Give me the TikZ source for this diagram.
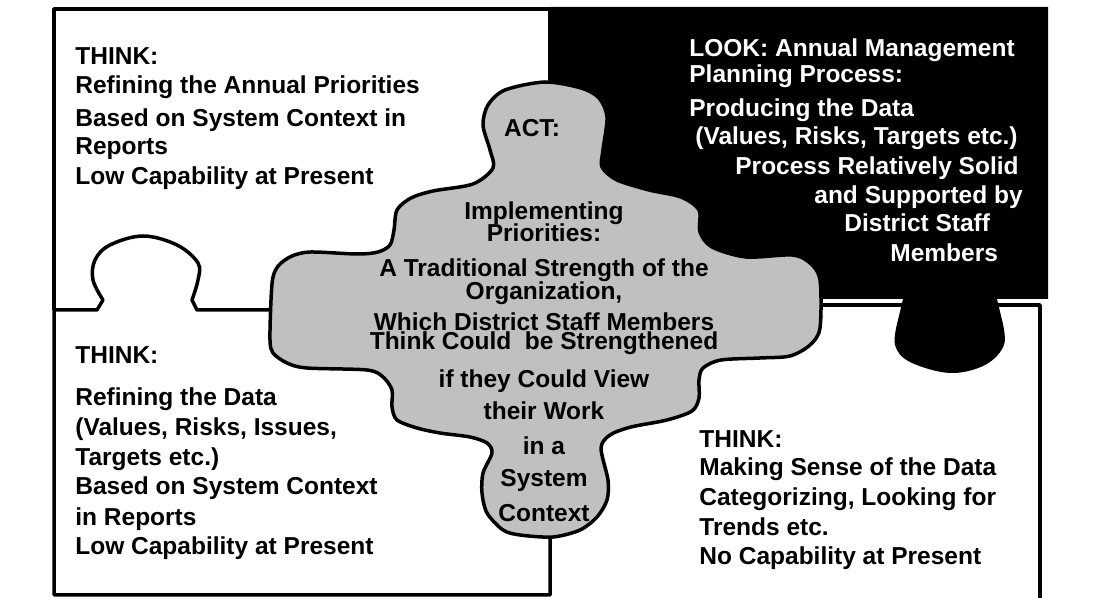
\documentclass[tikz,border=0pt]{standalone}
\usepackage{fontspec}
\setmainfont{Liberation Sans}
\usetikzlibrary{positioning}
\definecolor{actgray}{RGB}{192,192,192}

\begin{document}
\begin{tikzpicture}[x=0.5pt, y=-0.5pt,
    piece/.style={line width=1.75pt, line join=round},
    blocktext/.style={inner sep=0pt, align=left, anchor=base west, font=\fontsize{12.25}{15}\selectfont\bfseries},
    acttext/.style={inner sep=0pt, align=center, anchor=base, font=\fontsize{12.25}{16}\selectfont\bfseries}
]
\useasboundingbox (0,0) rectangle (1120,598);

% upper left piece
\draw[piece] (54,310) -- (54,9) -- (550,9) -- (550,120);
% lower left piece, tab pushed up into the upper one
\draw[piece] (550,480) -- (550,595) -- (54,595) -- (54,310) -- (97,310)
  -- plot[smooth, tension=0.6] coordinates {(103,300) (93,280) (95,260) (110,245) (143,236) (177,245) (198,263) (198,280) (192,300)}
  -- (197,310) -- (300,310);
% lower right piece
\draw[piece] (760,305) -- (903,305);
\draw[piece] (997,305) -- (1040,305) -- (1040,600);
% black piece with its knob
\fill (550,7) -- (1048,7) -- (1048,299) -- (997,299)
  -- plot[smooth, tension=0.6] coordinates {(1002,320) (1004,345) (985,365) (950,373) (910,362) (895,345) (898,320)}
  -- (903,299) -- (550,299) -- cycle;
% grey piece in the middle
\filldraw[piece, fill=actgray] plot[smooth cycle, tension=0.5] coordinates {
  (545,82) (581,88) (599,98) (607,117) (603,150) (602,167) (617,180) (649,190)
  (681,197) (699,210) (700,232) (712,247) (746,257) (792,255) (810,263) (820,280)
  (820,328) (810,345) (790,356) (760,358) (721,360) (703,368) (699,380) (699,398)
  (692,411) (667,420) (631,427) (610,435) (601,448) (608,480) (607,500) (597,517)
  (580,530) (553,537) (520,535) (503,530) (487,513) (482,493) (483,473) (492,453)
  (487,443) (470,437) (440,433) (417,428) (397,420) (392,407) (392,390) (383,377)
  (367,370) (307,368) (287,363) (273,353) (270,340) (271,300) (273,277) (279,265)
  (292,256) (311,252) (357,254) (378,252) (390,245) (394,230) (397,210) (411,198)
  (433,191) (473,184) (493,168) (490,150) (483,125) (488,105) (505,90)};

% text blocks, placed by the baseline of their last line
\node[blocktext] (thinkPriorities) at (75,185) {THINK:\\[-0.5pt]
  Refining the Annual Priorities\\[1.5pt]
  Based on System Context in\\[-1pt]
  Reports\\
  Low Capability at Present};

\node[blocktext, text=white] (lookData) at (689,262) {LOOK: Annual Management\\[-2pt]
  Planning Process:\\[2pt]
  Producing the Data\\[-1pt]
  \hspace*{3pt}(Values, Risks, Targets etc.)\\
  \hspace*{23pt}Process Relatively Solid\\[-0.5pt]
  \hspace*{62.5pt}and Supported by\\[-1pt]
  \hspace*{77.5pt}District Staff\\
  \hspace*{100.5pt}Members};

\node[blocktext] (thinkData) at (75,555) {THINK:\\[6.5pt]
  Refining the Data\\
  (Values, Risks, Issues,\\
  Targets etc.)\\[-0.5pt]
  Based on System Context\\[0.5pt]
  in Reports\\[-0.5pt]
  Low Capability at Present};

\node[blocktext] (thinkSense) at (699,565) {THINK:\\[-1pt]
  Making Sense of the Data\\
  Categorizing, Looking for\\
  Trends etc.\\[-0.5pt]
  No Capability at Present};

\node[acttext] (actHead) at (532,137) {ACT:};
\node[acttext] (actText) at (544,522) {Implementing\\[-5pt]
  Priorities:\\[1.5pt]
  A Traditional Strength of the\\[-4.5pt]
  Organization,\\[-0.5pt]
  Which District Staff Members\\[-6.5pt]
  Think Could\ \ be Strengthened\\[3pt]
  if they Could View\\
  their Work\\[1.5pt]
  in a\\
  System\\[1.5pt]
  Context};
\end{tikzpicture}
\end{document}
